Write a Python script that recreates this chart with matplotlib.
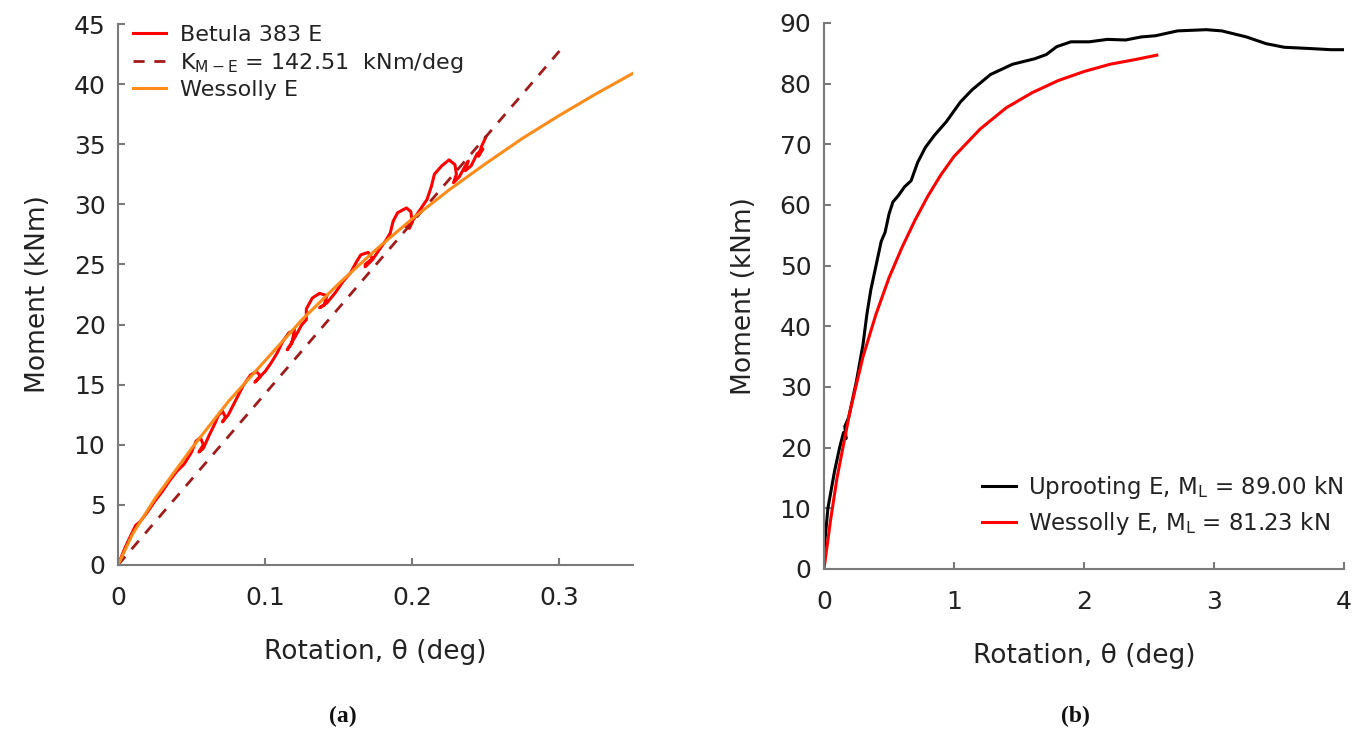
import matplotlib
matplotlib.use("Agg")
import matplotlib.pyplot as plt

plt.rcParams['font.family'] = ['DejaVu Sans']
plt.rcParams['mathtext.default'] = 'regular'

# ---------------- Panel (a) data ----------------
betula_x = [0, 0.005, 0.01, 0.012, 0.015, 0.02, 0.025, 0.03, 0.035, 0.04, 0.045, 0.05,
            0.053, 0.056, 0.058, 0.055, 0.058, 0.062, 0.066, 0.068, 0.071, 0.073, 0.071,
            0.075, 0.08, 0.085, 0.09, 0.094, 0.097, 0.093, 0.095, 0.1, 0.104, 0.108,
            0.112, 0.116, 0.12, 0.118, 0.115, 0.12, 0.125, 0.128, 0.128, 0.132, 0.137,
            0.142, 0.14, 0.137, 0.142, 0.148, 0.153, 0.158, 0.162, 0.165, 0.17, 0.173,
            0.168, 0.168, 0.173, 0.178, 0.182, 0.185, 0.187, 0.19, 0.196, 0.199, 0.2,
            0.198, 0.195, 0.2, 0.205, 0.21, 0.213, 0.215, 0.22, 0.225, 0.229, 0.23,
            0.228, 0.232, 0.236, 0.238, 0.236, 0.24, 0.244, 0.248, 0.245, 0.247, 0.25]
betula_y = [0, 1.5, 2.8, 3.3, 3.6, 4.4, 5.3, 6.1, 7.0, 7.8, 8.4, 9.4,
            10.3, 10.6, 10.0, 9.4, 9.7, 10.8, 11.8, 12.4, 12.8, 12.3, 11.9,
            12.5, 13.7, 14.9, 15.8, 16.1, 15.7, 15.2, 15.5, 16.1, 16.8, 17.6,
            18.6, 19.3, 19.6, 18.4, 17.9, 18.9, 20.0, 20.4, 21.3, 22.2, 22.6,
            22.4, 21.6, 21.4, 21.8, 22.7, 23.6, 24.3, 25.2, 25.8, 26.0, 25.5,
            25.0, 24.8, 25.4, 26.3, 27.0, 27.6, 28.6, 29.3, 29.7, 29.4, 28.5,
            28.0, 28.2, 28.6, 29.5, 30.4, 31.5, 32.5, 33.2, 33.7, 33.3, 32.5,
            31.8, 32.3, 33.2, 33.6, 32.8, 33.2, 34.2, 34.6, 34.0, 34.8, 35.6]

kme_x = [0, 0.3]
kme_y = [0, 42.75]

wess_a_x = [0, 0.01, 0.025, 0.05, 0.075, 0.1, 0.125, 0.15, 0.175, 0.2, 0.225, 0.25,
            0.275, 0.3, 0.325, 0.35]
wess_a_y = [0, 2.6, 5.5, 9.7, 13.6, 17.0, 20.4, 23.4, 26.2, 28.8, 31.2, 33.4,
            35.5, 37.4, 39.2, 40.9]

# ---------------- Panel (b) data ----------------
uproot_x = [0, 0.03, 0.08, 0.12, 0.15, 0.17, 0.16, 0.19, 0.25, 0.3, 0.33, 0.36, 0.4,
            0.44, 0.47, 0.5, 0.53, 0.57, 0.62, 0.67, 0.72, 0.78, 0.85, 0.94, 1.05, 1.14,
            1.28, 1.45, 1.62, 1.71, 1.79, 1.9, 2.04, 2.18, 2.32, 2.44, 2.55, 2.72, 2.94,
            3.06, 3.25, 3.4, 3.54, 3.73, 3.9, 4.0]
uproot_y = [3, 10, 16, 20, 22.5, 21.5, 23.5, 25, 31, 37, 42, 46, 50,
            54, 55.5, 58.5, 60.5, 61.5, 63, 64, 67, 69.5, 71.5, 73.7, 77, 79,
            81.5, 83.2, 84.1, 84.8, 86.1, 86.9, 86.9, 87.3, 87.2, 87.7, 87.9, 88.7, 88.9,
            88.7, 87.7, 86.6, 86.0, 85.8, 85.6, 85.6]

wess_b_x = [0, 0.05, 0.1, 0.2, 0.3, 0.4, 0.5, 0.6, 0.7, 0.8, 0.9, 1.0, 1.2, 1.4,
            1.6, 1.8, 2.0, 2.2, 2.4, 2.56]
wess_b_y = [0, 8, 15, 26, 35, 42, 48, 53, 57.5, 61.5, 65, 68, 72.5, 76,
            78.5, 80.5, 82, 83.2, 84, 84.7]

TXT = '#222222'
SPINE = '#7a7a7a'

fig = plt.figure(figsize=(13.52, 7.36), dpi=100)
ax1 = fig.add_axes([118/1352, 1-565/736, 515/1352, 541/736])
ax2 = fig.add_axes([824/1352, 1-569/736, 520/1352, 546/736])

for ax in (ax1, ax2):
    for s in ('top', 'right'):
        ax.spines[s].set_visible(False)
    for s in ('left', 'bottom'):
        ax.spines[s].set_color(SPINE)
        ax.spines[s].set_linewidth(1.5)
    ax.tick_params(colors=SPINE, labelcolor=TXT, labelsize=18, length=5, width=1.5,
                   direction='in')
    ax.tick_params(axis='x', pad=15)
    ax.tick_params(axis='y', pad=9)

# Panel (a)
ax1.plot(betula_x, betula_y, color='#ff0000', lw=2.2, label='Betula 383 E')
ax1.plot(kme_x, kme_y, color='#a01c1c', lw=2, ls=(0, (4, 3.5)),
         label='K$_{M-E}$ = 142.51  kNm/deg')
ax1.plot(wess_a_x, wess_a_y, color='#ff8c1a', lw=2.2, label='Wessolly E')
ax1.set_xlim(0, 0.35)
ax1.set_ylim(0, 45)
ax1.set_xticks([0, 0.1, 0.2, 0.3])
ax1.set_xticklabels(['0', '0.1', '0.2', '0.3'])
ax1.set_yticks(range(0, 46, 5))
ax1.set_xlabel('Rotation, θ (deg)', fontsize=19, color=TXT, labelpad=21)
ax1.set_ylabel('Moment (kNm)', fontsize=19, color=TXT, labelpad=16)
ax1.legend(loc='upper left', bbox_to_anchor=(-0.01, 1.035), frameon=False, fontsize=16,
           handlelength=1.5, handletextpad=0.6, labelspacing=0.25, labelcolor=TXT)

# Panel (b)
ax2.plot(uproot_x, uproot_y, color='#000000', lw=2.2, label='Uprooting E, M$_L$ = 89.00 kN')
ax2.plot(wess_b_x, wess_b_y, color='#ff0000', lw=2.2, label='Wessolly E, M$_L$ = 81.23 kN')
ax2.set_xlim(0, 4)
ax2.set_ylim(0, 90)
ax2.set_xticks(range(0, 5))
ax2.set_yticks(range(0, 91, 10))
ax2.set_xlabel('Rotation, θ (deg)', fontsize=19, color=TXT, labelpad=21)
ax2.set_ylabel('Moment (kNm)', fontsize=19, color=TXT, labelpad=16)
ax2.legend(loc='lower right', bbox_to_anchor=(1.038, 0.02), frameon=False, fontsize=16.5,
           handlelength=1.5, handletextpad=0.5, labelspacing=0.42, labelcolor=TXT)

fig.text(343/1352, 1-716/736, '(a)', ha='center', va='center', fontsize=17,
         family='Liberation Serif', fontweight='bold', color='#111111')
fig.text(1075/1352, 1-716/736, '(b)', ha='center', va='center', fontsize=17,
         family='Liberation Serif', fontweight='bold', color='#111111')

fig.savefig('out.png', dpi=100)
